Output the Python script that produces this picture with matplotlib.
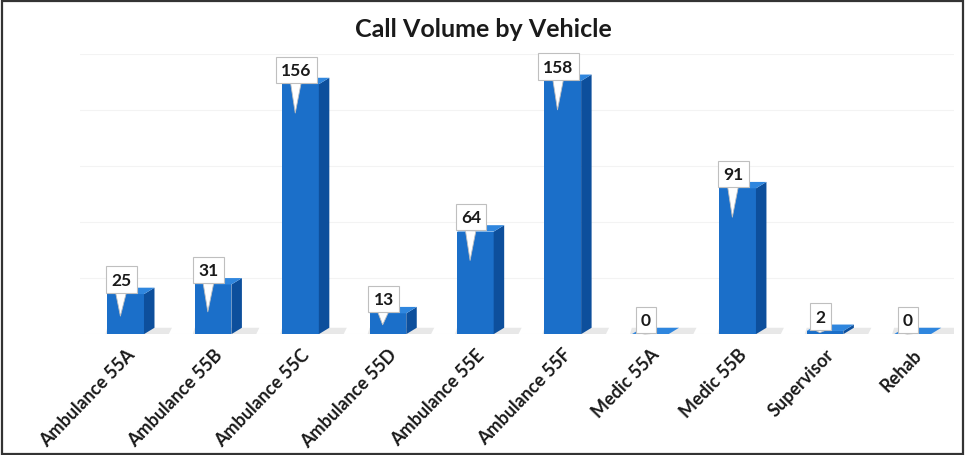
import numpy as np
import matplotlib
matplotlib.use('Agg')
import matplotlib.pyplot as plt
from matplotlib.patches import Polygon, Rectangle

# --- Chart data ---
vehicles = ["Ambulance 55A", "Ambulance 55B", "Ambulance 55C", "Ambulance 55D",
            "Ambulance 55E", "Ambulance 55F", "Medic 55A", "Medic 55B",
            "Supervisor", "Rehab"]
calls = [25, 31, 156, 13, 64, 158, 0, 91, 2, 0]

TITLE = "Call Volume by Vehicle"

FRONT = "#1b6fc9"
SIDE = "#0d4f9c"
TOP = "#2f86de"
BAR_W = 0.42
DEPTH_X = 0.12
DEPTH_Y = 4.0

plt.rcParams['font.family'] = ['Lato', 'DejaVu Sans']

fig = plt.figure(figsize=(9.66, 4.56), dpi=100)
fig.patches.append(Rectangle((0.002, 0.003), 0.995, 0.993, transform=fig.transFigure,
                             fill=False, ec="#333333", lw=1.6))
ax = fig.add_axes([0.083, 0.265, 0.905, 0.615])

x = np.arange(len(vehicles))
ax.bar(x, calls, width=BAR_W, color=FRONT, zorder=3)

# fake 3D side and top faces, built from the bar values
for xi, v in zip(x, calls):
    r = xi + BAR_W / 2
    l = xi - BAR_W / 2
    side = Polygon([(r, 0), (r + DEPTH_X, DEPTH_Y), (r + DEPTH_X, v + DEPTH_Y), (r, v)],
                   closed=True, fc=SIDE, ec="none", zorder=3)
    top = Polygon([(l, v), (r, v), (r + DEPTH_X, v + DEPTH_Y), (l + DEPTH_X, v + DEPTH_Y)],
                  closed=True, fc=TOP, ec="none", zorder=3)
    ax.add_patch(side)
    ax.add_patch(top)
    # soft floor shadow
    ax.add_patch(Polygon([(l - 0.03, -1.5), (r + DEPTH_X + 0.15, -1.5),
                          (r + DEPTH_X + 0.2, DEPTH_Y), (l, DEPTH_Y)],
                         closed=True, fc="#d9d9d9", ec="none", alpha=0.6, zorder=2))

# callout labels
for xi, v in zip(x, calls):
    tip = v - min(18, v * 0.55)
    ax.annotate(str(v), xy=(xi - 0.06, tip), xytext=(xi - 0.05, v + 9),
                ha="center", va="center", fontsize=12.5, fontweight="bold", color="#1a1a1a",
                bbox=dict(boxstyle="square,pad=0.3", fc="white", ec="#bfbfbf", lw=0.8),
                arrowprops=dict(arrowstyle="wedge,tail_width=0.6,shrink_factor=0.5",
                                fc="white", ec="#bfbfbf", lw=0.6,
                                shrinkA=0, shrinkB=0),
                zorder=5)

ax.set_xlim(-0.52, 9.48)
ax.set_ylim(0, 175)
ax.set_yticks(np.arange(0, 176, 35))
ax.yaxis.grid(True, color="#f3f3f3", lw=0.8, zorder=0)
ax.set_yticklabels([])
ax.tick_params(axis="y", length=0)
ax.set_xticks(x)
ax.set_xticklabels(vehicles, rotation=46, ha="right", rotation_mode="anchor",
                   fontsize=13, fontweight="bold", color="#1a1a1a")
ax.tick_params(axis="x", length=0, pad=8)
for s in ax.spines.values():
    s.set_visible(False)

fig.text(0.5, 0.935, TITLE, ha="center", va="center", fontsize=18,
         fontweight="bold", color="#1a1a1a")

fig.savefig("out.png", dpi=100)
